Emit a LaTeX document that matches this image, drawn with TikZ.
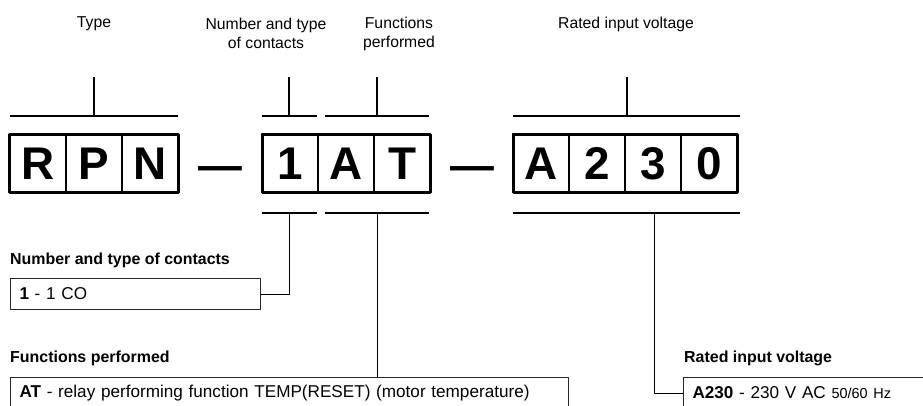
\documentclass[tikz,border=0pt]{standalone}
\usepackage{fontspec}
\setmainfont{Liberation Sans}
\usetikzlibrary{positioning}

\tikzset{
  codecell/.style={draw, line width=1.5bp, minimum width=56bp, minimum height=58bp,
    text height=33bp, text depth=0pt, inner sep=0pt, outer sep=0pt,
    font=\fontsize{46}{46}\selectfont\bfseries},
  codedash/.style={inner sep=0pt, font=\fontsize{44}{44}\selectfont\bfseries},
  toplabel/.style={align=center, inner sep=0pt, font=\fontsize{15.8}{19}\selectfont},
  heading/.style={anchor=base west, inner sep=0pt, font=\fontsize{16}{19}\selectfont\bfseries},
  descbox/.style={draw=black!85, line width=1bp, anchor=north west, align=left,
    minimum height=31bp, inner xsep=9bp, inner ysep=0pt, font=\fontsize{17.2}{20}\selectfont},
  bracket/.style={line width=1.3bp},
  leader/.style={line width=1bp},
}

\begin{document}
\begin{tikzpicture}[>=latex,line join=bevel,x=1bp,y=-1bp,node distance=0pt]
  \clip (0,0) rectangle (923,405);
  %%
  % Node: top labels
  \node[toplabel] (lblType) at (94,24) {Type};
  \node[toplabel] (lblContacts) at (266,33.5) {Number and type\\of contacts};
  \node[toplabel] (lblFunctions) at (399,33.5) {Functions\\performed};
  \node[toplabel] (lblVoltage) at (626,24) {Rated input voltage};
  % Node: type
  \node[codecell] (cR) at (38,163) {R};
  \node[codecell, right=of cR] (cP) {P};
  \node[codecell, right=of cP] (cN) {N};
  \draw[line width=3bp] (cR.north west) rectangle (cN.south east);
  % Node: contacts and functions
  \node[codecell] (c1) at (290,163) {1};
  \node[codecell, right=of c1] (cA) {A};
  \node[codecell, right=of cA] (cT) {T};
  \draw[line width=3bp] (c1.north west) rectangle (cT.south east);
  % Node: voltage
  \node[codecell] (vA) at (541,163) {A};
  \node[codecell, right=of vA] (v2) {2};
  \node[codecell, right=of v2] (v3) {3};
  \node[codecell, right=of v3] (v0) {0};
  \draw[line width=3bp] (vA.north west) rectangle (v0.south east);
  % Node: dashes
  \node[codedash] (dashA) at (220.5,173.5) {—};
  \node[codedash] (dashB) at (472,173.5) {—};
  %
  % Edge: upper brackets
  \coordinate (tTypeL) at (10,116);  \coordinate (tTypeR) at (178,116);
  \coordinate (tTypeM) at (94,116);  \coordinate (tTypeT) at (94,77);
  \draw[bracket] (tTypeL) -- (tTypeR) (tTypeM) -- (tTypeT);
  \coordinate (tConL) at (262,116);  \coordinate (tConR) at (317,116);
  \coordinate (tConM) at (289,116);  \coordinate (tConT) at (289,77);
  \draw[bracket] (tConL) -- (tConR) (tConM) -- (tConT);
  \coordinate (tFunL) at (325,116);  \coordinate (tFunR) at (429,116);
  \coordinate (tFunM) at (377,116);  \coordinate (tFunT) at (377,77);
  \draw[bracket] (tFunL) -- (tFunR) (tFunM) -- (tFunT);
  \coordinate (tVolL) at (513,116);  \coordinate (tVolR) at (740,116);
  \coordinate (tVolM) at (627,116);  \coordinate (tVolT) at (627,77);
  \draw[bracket] (tVolL) -- (tVolR) (tVolM) -- (tVolT);
  %
  % Node: descriptions
  \node[heading] (hContacts) at (10,264) {Number and type of contacts};
  \node[descbox, text width=232bp] (dContacts) at (10,278) {\textbf{1} - 1 CO};
  \node[heading] (hFunctions) at (10,362) {Functions performed};
  \node[descbox, text width=540bp] (dFunctions) at (10,377)
    {\textbf{AT} - relay performing function TEMP(RESET) (motor temperature)};
  \node[heading] (hVoltage) at (684,362) {Rated input voltage};
  \node[descbox, text width=260bp] (dVoltage) at (683,377)
    {\textbf{A230} - 230 V AC {\fontsize{14.5}{16}\selectfont 50/60 Hz}};
  %
  % Edge: lower brackets
  \coordinate (bConL) at (262,213);  \coordinate (bConR) at (317,213);
  \coordinate (bConM) at (289,213);
  \draw[bracket] (bConL) -- (bConR);
  \draw[leader] (bConM) |- (dContacts.east);
  \coordinate (bFunL) at (325,213);  \coordinate (bFunR) at (429,213);
  \coordinate (bFunM) at (377,213);
  \draw[bracket] (bFunL) -- (bFunR);
  \draw[leader] (bFunM) -- (bFunM |- dFunctions.north);
  \coordinate (bVolL) at (513,213);  \coordinate (bVolR) at (740,213);
  \coordinate (bVolM) at (654,213);
  \draw[bracket] (bVolL) -- (bVolR);
  \draw[leader] (bVolM) |- (dVoltage.west);
  %
\end{tikzpicture}
\end{document}
